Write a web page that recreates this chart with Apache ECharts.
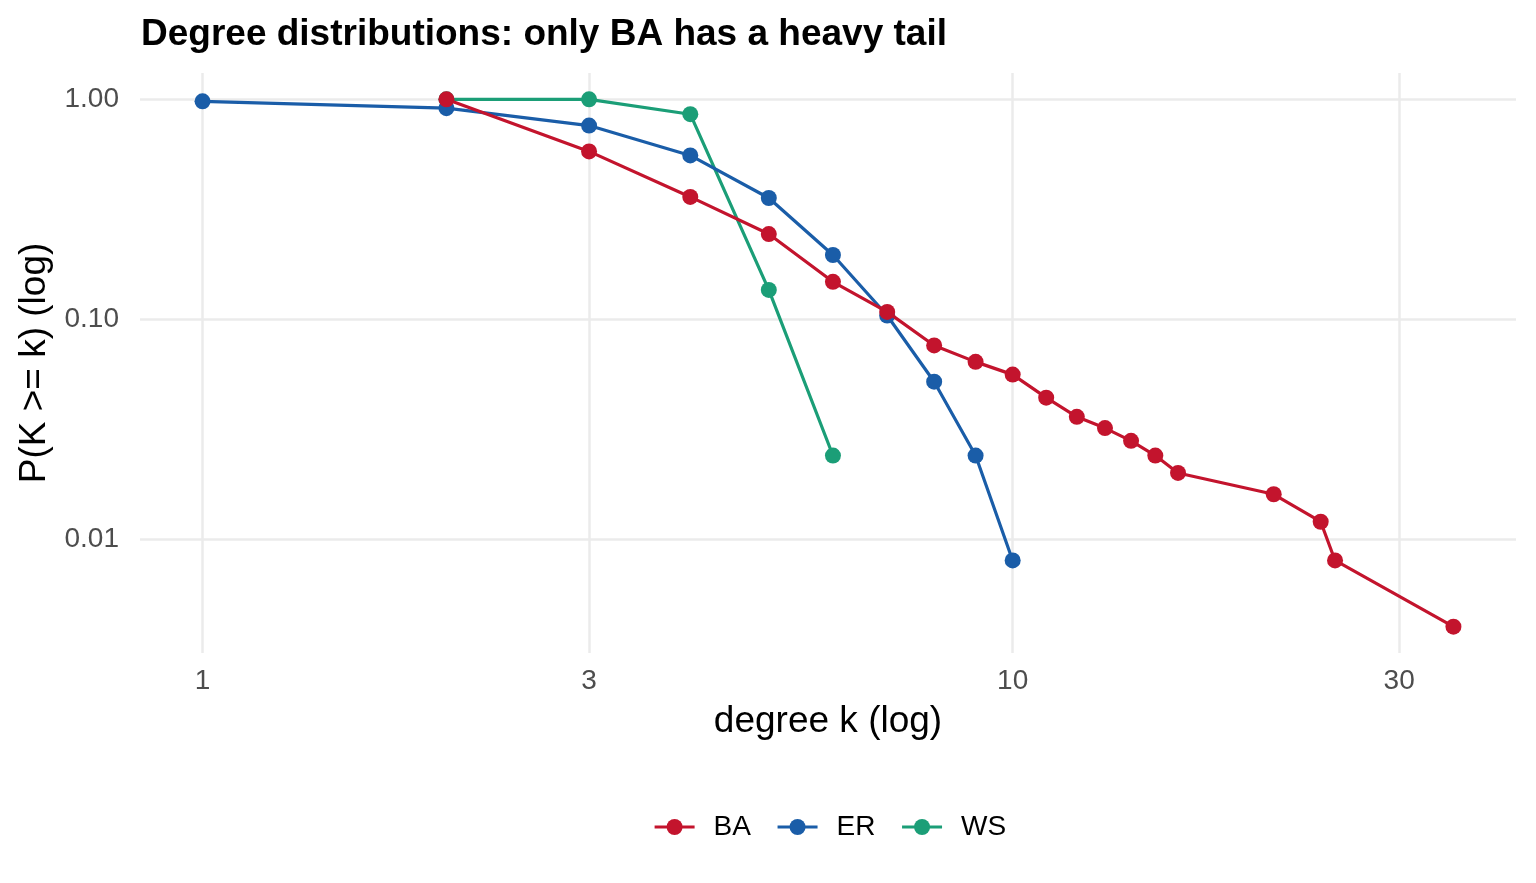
<!DOCTYPE html>
<html style="height: 100%">
<head>
    <meta charset="utf-8">
    <title>Degree distributions</title>
    <script src="https://cdn.jsdelivr.net/npm/echarts@6/dist/echarts.min.js"></script>
</head>
<body style="height: 100%; margin: 0; background: #fff">
    <div id="main" style="width: 1536px; height: 883px"></div>
    <script>
        // degree k and P(K >= k)
        var baK = [2, 3, 4, 5, 6, 7, 8, 9, 10, 11, 12, 13, 14, 15, 16, 21, 24, 25, 35];
        var baP = [1.0, 0.58, 0.36, 0.244, 0.148, 0.108, 0.076, 0.064, 0.056, 0.044, 0.036, 0.032, 0.028, 0.024, 0.020, 0.016, 0.012, 0.008, 0.004];

        var erK = [1, 2, 3, 4, 5, 6, 7, 8, 9, 10];
        var erP = [0.98, 0.912, 0.76, 0.556, 0.356, 0.196, 0.104, 0.052, 0.024, 0.008];

        var wsK = [2, 3, 4, 5, 6];
        var wsP = [1.0, 1.0, 0.856, 0.136, 0.024];

        var xTicks = [1, 3, 10, 30];
        var yTicks = [0.01, 0.1, 1];

        var seriesNames = ['BA', 'ER', 'WS'];
        var colors = ['#C3142D', '#1A5DA8', '#1B9E77'];
        var zOrder = [4, 3, 2]; // BA drawn on top, like the reference

        var font = 'Liberation Sans, Arial, sans-serif';

        // plot in log10 space on value axes
        function toLog(ks, ps) {
            return ks.map(function (k, i) {
                return [Math.log10(k), Math.log10(ps[i])];
            });
        }

        var chart = echarts.init(document.getElementById('main'));

        var data = [toLog(baK, baP), toLog(erK, erP), toLog(wsK, wsP)];

        chart.setOption({
            animation: false,
            color: colors,
            title: {
                text: 'Degree distributions: only BA has a heavy tail',
                left: 136,
                top: 11,
                textStyle: {
                    fontFamily: font,
                    fontSize: 37,
                    fontWeight: 'bold',
                    color: '#000'
                }
            },
            grid: {
                left: 140,
                right: 20,
                top: 73,
                bottom: 230
            },
            xAxis: {
                type: 'value',
                min: -0.0772,
                max: 1.6213,
                name: 'degree k (log)',
                nameLocation: 'middle',
                nameGap: 50,
                nameTextStyle: { fontFamily: font, fontSize: 37, color: '#000' },
                axisLine: { show: false },
                axisTick: { show: false, customValues: xTicks.map(Math.log10) },
                axisLabel: {
                    customValues: xTicks.map(Math.log10),
                    fontFamily: font,
                    fontSize: 28,
                    color: '#4D4D4D',
                    margin: 14,
                    formatter: function (v) { return String(Math.round(Math.pow(10, v))); }
                },
                splitLine: { show: true, lineStyle: { color: '#EBEBEB', width: 2.5 } }
            },
            yAxis: {
                type: 'value',
                min: -2.5178,
                max: 0.1199,
                name: 'P(K >= k) (log)',
                nameLocation: 'middle',
                nameRotate: 90,
                nameGap: 86,
                nameTextStyle: { fontFamily: font, fontSize: 37, color: '#000' },
                axisLine: { show: false },
                axisTick: { show: false, customValues: yTicks.map(Math.log10) },
                axisLabel: {
                    customValues: yTicks.map(Math.log10),
                    fontFamily: font,
                    fontSize: 28,
                    color: '#4D4D4D',
                    margin: 21,
                    formatter: function (v) { return Math.pow(10, v).toFixed(2); }
                },
                splitLine: { show: true, lineStyle: { color: '#EBEBEB', width: 2.5 } }
            },
            legend: {
                data: seriesNames,
                left: 648,
                top: 808,
                itemWidth: 40,
                itemHeight: 20,
                itemGap: 25,
                lineStyle: { width: 3.2 },
                textStyle: {
                    fontFamily: font,
                    fontSize: 28,
                    color: '#000',
                    padding: [0, 0, 0, 14]
                }
            },
            series: seriesNames.map(function (name, i) {
                return {
                    name: name,
                    type: 'line',
                    z: zOrder[i],
                    data: data[i],
                    symbol: 'circle',
                    symbolSize: 16,
                    lineStyle: { width: 3.2, color: colors[i] },
                    itemStyle: { color: colors[i] }
                };
            })
        });
    </script>
</body>
</html>
